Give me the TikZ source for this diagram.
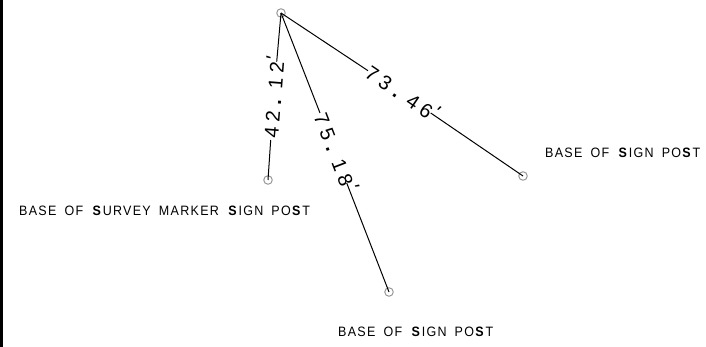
\documentclass[tikz,border=0pt]{standalone}
\usepackage{fontspec}
\newfontfamily\cadfont[LetterSpace=9.5,WordSpace=1.7,FakeStretch=0.92]{Liberation Sans}
\newfontfamily\dimfont[LetterSpace=24]{Liberation Sans}
\newcommand{\bS}{\textbf{S}\hspace{.04em}}
\newcommand{\dt}{\hspace{.32em}\textbf{.}\hspace{.28em}}
\newcommand{\tick}{\hspace{.05em}\raisebox{.22em}{\textit{\symbol{39}}}}
\tikzset{
  marker/.style={circle,draw=black!40,line width=1pt,minimum size=8.5pt,inner sep=0pt},
  leader/.style={draw=black,line width=1pt},
  note/.style={inner sep=0pt,font=\cadfont\fontsize{13.6}{14}\selectfont},
  dimtext/.style={inner sep=0pt,anchor=base,font=\dimfont\fontsize{20}{21}\selectfont}
}
\begin{document}
\begin{tikzpicture}[x=1pt,y=-1pt]
\useasboundingbox (0,0) rectangle (706,347);
\fill[black] (0,0) rectangle (3,347);
\node[marker] (top) at (281,13) {};
\node[marker] (survey) at (268,180) {};
\node[marker] (post) at (389,292) {};
\node[marker] (signpost) at (523,176) {};
\coordinate (g1a) at (276.7,61.7);
\coordinate (g1b) at (270.7,140);
\coordinate (g2a) at (320,113);
\coordinate (g2b) at (346.7,183);
\coordinate (g3a) at (368,70.7);
\coordinate (g3b) at (430.7,113);
\draw[leader] (top.center) -- (g1a);
\draw[leader] (g1b) -- (survey.center);
\draw[leader] (top.center) -- (g2a);
\draw[leader] (g2b) -- (post.center);
\draw[leader] (top.center) -- (g3a);
\draw[leader] (g3b) -- (signpost.center);
\node[dimtext,rotate=85.5] (d1) at (281.6,95.5) {42\dt 12\tick};
\node[dimtext,rotate=-69] (d2) at (329,157) {75\dt 18\tick};
\node[dimtext,rotate=-34] (d3) at (399.5,101) {73\dt 46\tick};
\node[note,anchor=west] (l1) at (19,211) {BASE OF \bS URVEY MARKER \bS IGN PO\bS T};
\node[note,anchor=west] (l2) at (338,331.5) {BASE OF \bS IGN PO\bS T};
\node[note,anchor=west] (l3) at (545,153) {BASE OF \bS IGN PO\bS T};
\end{tikzpicture}
\end{document}
